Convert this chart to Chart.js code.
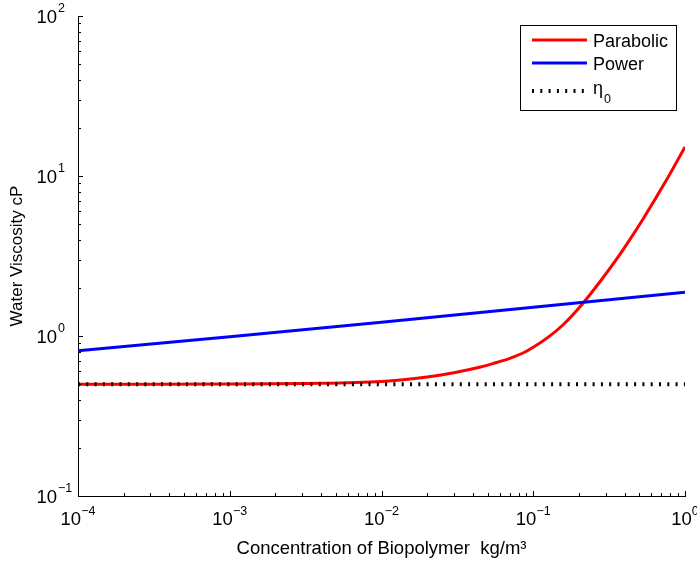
<!DOCTYPE html>
<html>
<head>
<meta charset="utf-8">
<script src="https://cdn.jsdelivr.net/npm/chart.js@4"></script>
<style>
  body { margin: 0; background: #fff; }
  canvas { display: block; }
</style>
</head>
<body>
<canvas id="grafico" width="697" height="563"></canvas>
<script>
// Dados (eixos log-log)
var concParabolic = [1e-4, 3e-4, 1e-3, 3e-3, 1e-2, 2e-2, 3e-2, 4.5e-2, 5.5e-2, 7e-2, 8.5e-2, 0.1, 0.125, 0.158, 0.21, 0.276, 0.355, 0.435, 0.532, 0.758, 1.0];
var viscParabolic = [0.5, 0.5, 0.501, 0.505, 0.52, 0.555, 0.59, 0.64, 0.675, 0.725, 0.78, 0.85, 0.98, 1.18, 1.58, 2.19, 3.03, 4.03, 5.43, 9.5, 15.2];

var concPower = [1e-4, 1e-3, 1e-2, 1e-1, 1.0];
var viscPower = [0.81, 0.99, 1.22, 1.51, 1.88];

var concEta0 = [1e-4, 1.0];
var viscEta0 = [0.5, 0.5];

var legendLabels = ['Parabolic', 'Power', 'η'];
var legendSubs = ['', '', '0'];

var xTickValues = [1e-4, 1e-3, 1e-2, 1e-1, 1];
var xTickExponents = ['\u22124', '\u22123', '\u22122', '\u22121', '0'];
var yTickValues = [0.1, 1, 10, 100];
var yTickExponents = ['\u22121', '0', '1', '2'];

function pontos(xs, ys) {
  return xs.map(function (v, i) { return { x: v, y: ys[i] }; });
}

var fonte = '"Liberation Sans", Arial, Helvetica, sans-serif';

// Marcas de escala para dentro, rótulos 10^n e legenda no estilo MATLAB
var estiloMatlab = {
  id: 'estiloMatlab',
  afterDraw: function (chart) {
    var ctx = chart.ctx;
    var xs = chart.scales.x, ys = chart.scales.y;
    var a = chart.chartArea;
    ctx.save();
    ctx.strokeStyle = '#000';
    ctx.lineWidth = 1;

    // marcas no eixo x
    for (var d = 0; d < xTickValues.length; d++) {
      var base = xTickValues[d];
      for (var m = 1; m <= 9; m++) {
        if (d === xTickValues.length - 1 && m > 1) break;
        var px = Math.round(xs.getPixelForValue(base * m)) + 0.5;
        var len = m === 1 ? 5 : 3;
        ctx.beginPath();
        ctx.moveTo(px, a.bottom);
        ctx.lineTo(px, a.bottom - len);
        ctx.stroke();
      }
    }
    // marcas no eixo y
    for (var e = 0; e < yTickValues.length; e++) {
      var b = yTickValues[e];
      for (var k = 1; k <= 9; k++) {
        if (e === yTickValues.length - 1 && k > 1) break;
        var py = Math.round(ys.getPixelForValue(b * k)) + 0.5;
        var l = k === 1 ? 5 : 3;
        ctx.beginPath();
        ctx.moveTo(a.left, py);
        ctx.lineTo(a.left + l, py);
        ctx.stroke();
      }
    }

    // rótulos
    ctx.fillStyle = '#000';
    ctx.textBaseline = 'alphabetic';
    var big = '18.5px ' + fonte, small = '12.5px ' + fonte;
    xTickValues.forEach(function (v, i) {
      var px = xs.getPixelForValue(v);
      ctx.font = big;
      var w1 = ctx.measureText('10').width;
      ctx.font = small;
      var w2 = ctx.measureText(xTickExponents[i]).width;
      var x0 = px - (w1 + w2) / 2;
      ctx.font = big;
      ctx.textAlign = 'left';
      ctx.fillText('10', x0, 525);
      ctx.font = small;
      ctx.fillText(xTickExponents[i], x0 + w1, 515);
    });
    yTickValues.forEach(function (v, i) {
      var py = ys.getPixelForValue(v);
      ctx.font = big;
      ctx.textAlign = 'right';
      ctx.fillText('10', 57, py + 7);
      ctx.font = small;
      ctx.textAlign = 'left';
      ctx.fillText(yTickExponents[i], 58, py - 4);
    });

    // legenda
    ctx.lineWidth = 1;
    ctx.strokeRect(520.5, 25.5, 156, 85);
    var rows = [40, 63, 91];
    chart.data.datasets.forEach(function (ds, i) {
      var y = rows[i];
      ctx.save();
      ctx.strokeStyle = ds.borderColor;
      ctx.lineWidth = ds.borderWidth;
      ctx.setLineDash(ds.borderDash || []);
      ctx.beginPath();
      ctx.moveTo(532, y);
      ctx.lineTo(587, y);
      ctx.stroke();
      ctx.restore();
      ctx.font = '18px ' + fonte;
      ctx.textAlign = 'left';
      if (legendSubs[i]) {
        ctx.fillText(legendLabels[i], 593, y + 3);
        var w = ctx.measureText(legendLabels[i]).width;
        ctx.font = '12.5px ' + fonte;
        ctx.fillText(legendSubs[i], 593 + w + 1, y + 12);
      } else {
        ctx.fillText(legendLabels[i], 593, y + 7);
      }
    });
    ctx.restore();
  }
};

var data = {
  datasets: [{
    label: 'Parabolic',
    data: pontos(concParabolic, viscParabolic),
    borderColor: '#ff0000',
    borderWidth: 3,
    cubicInterpolationMode: 'monotone',
    order: 2
  }, {
    label: 'Power',
    data: pontos(concPower, viscPower),
    borderColor: '#0000ff',
    borderWidth: 3,
    order: 1
  }, {
    label: 'η0',
    data: pontos(concEta0, viscEta0),
    borderColor: '#000000',
    borderWidth: 4,
    borderDash: [2, 6.3],
    borderCapStyle: 'butt',
    order: 0
  }]
};

var options = {
  responsive: false,
  animation: false,
  layout: { padding: { top: 16, right: 12, left: 0, bottom: 0 } },
  elements: { point: { radius: 0 }, line: { fill: false } },
  plugins: { legend: { display: false }, tooltip: { enabled: false } },
  scales: {
    x: {
      type: 'logarithmic',
      min: 1e-4,
      max: 1,
      grid: { display: false },
      border: { color: '#000', width: 1 },
      ticks: { display: false },
      title: {
        display: true,
        text: 'Concentration of Biopolymer  kg/m\u00b3',
        color: '#000',
        font: { family: fonte, size: 18.5 },
        padding: { top: 0, bottom: 3 }
      },
      afterFit: function (s) { s.height = 67; }
    },
    y: {
      type: 'logarithmic',
      min: 0.1,
      max: 100,
      grid: { display: false },
      border: { color: '#000', width: 1 },
      ticks: { display: false },
      title: {
        display: true,
        text: 'Water Viscosity cP',
        color: '#000',
        font: { family: fonte, size: 17 },
        padding: { top: 7, bottom: 0 }
      },
      afterFit: function (s) { s.width = 78; }
    }
  }
};

var ctx = document.getElementById('grafico').getContext('2d');
var grafico = new Chart(ctx, {
  type: 'line',
  data: data,
  options: options,
  plugins: [estiloMatlab]
});
</script>
</body>
</html>
